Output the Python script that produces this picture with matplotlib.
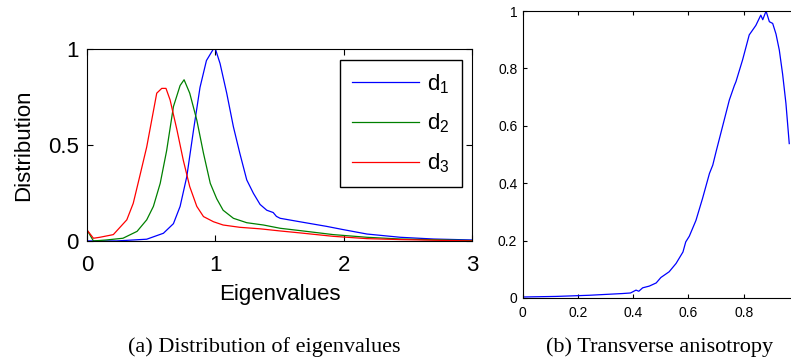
import matplotlib.pyplot as plt
import numpy as np

plt.rcParams['font.family'] = ['Liberation Sans', 'DejaVu Sans']
plt.rcParams['mathtext.fontset'] = 'custom'
plt.rcParams['mathtext.rm'] = 'Liberation Sans'
plt.rcParams['mathtext.it'] = 'Liberation Sans'

# (a) eigenvalue distributions
x_d1 = [0.0, 0.23, 0.465, 0.595, 0.673, 0.725, 0.777, 0.83, 0.88, 0.93, 0.984, 1.0,
        1.036, 1.088, 1.14, 1.19, 1.244, 1.296, 1.348, 1.40, 1.45, 1.475, 1.504,
        1.657, 1.865, 1.995, 2.18, 2.44, 2.70, 3.0]
y_d1 = [0.0, 0.0, 0.009, 0.04, 0.09, 0.18, 0.335, 0.58, 0.80, 0.94, 1.0, 1.0,
        0.925, 0.77, 0.595, 0.457, 0.318, 0.248, 0.19, 0.16, 0.148, 0.128, 0.118,
        0.10, 0.076, 0.059, 0.036, 0.019, 0.01, 0.005]

x_d2 = [0.0, 0.05, 0.15, 0.28, 0.39, 0.465, 0.517, 0.57, 0.62, 0.673, 0.725, 0.756,
        0.80, 0.855, 0.907, 0.96, 1.01, 1.06, 1.14, 1.244, 1.374, 1.504, 1.657,
        1.917, 2.18, 2.44, 3.0]
y_d2 = [0.057, 0.0, 0.005, 0.014, 0.05, 0.11, 0.18, 0.30, 0.47, 0.70, 0.81, 0.84,
        0.77, 0.63, 0.457, 0.30, 0.22, 0.16, 0.118, 0.095, 0.083, 0.066, 0.054,
        0.033, 0.019, 0.010, 0.002]

x_d3 = [0.0, 0.02, 0.05, 0.1, 0.205, 0.31, 0.36, 0.41, 0.465, 0.504, 0.543, 0.582,
        0.615, 0.647, 0.70, 0.75, 0.80, 0.855, 0.907, 0.985, 1.06, 1.19, 1.35,
        1.504, 1.657, 1.917, 2.18, 2.44, 3.0]
y_d3 = [0.057, 0.04, 0.014, 0.019, 0.033, 0.11, 0.196, 0.335, 0.49, 0.63, 0.77, 0.795,
        0.795, 0.735, 0.58, 0.42, 0.283, 0.18, 0.127, 0.10, 0.083, 0.071, 0.063,
        0.052, 0.042, 0.024, 0.012, 0.007, 0.0]

# (b) transverse anisotropy
x_ta = [0.0, 0.12, 0.24, 0.30, 0.36, 0.39, 0.41, 0.42, 0.434, 0.458, 0.483, 0.50,
        0.53, 0.555, 0.58, 0.59, 0.603, 0.627, 0.651, 0.676, 0.688, 0.70, 0.724,
        0.748, 0.766, 0.772, 0.796, 0.82, 0.844, 0.862, 0.869, 0.881, 0.893,
        0.905, 0.917, 0.929, 0.941, 0.953, 0.965]
y_ta = [0.003, 0.005, 0.009, 0.012, 0.015, 0.017, 0.027, 0.023, 0.035, 0.041, 0.052, 0.071,
        0.091, 0.12, 0.16, 0.195, 0.215, 0.27, 0.347, 0.434, 0.463, 0.51, 0.60,
        0.69, 0.74, 0.754, 0.83, 0.917, 0.95, 0.986, 0.97, 1.0, 0.963,
        0.957, 0.92, 0.864, 0.78, 0.678, 0.538]

fig = plt.figure(figsize=(7.91, 3.58), dpi=100)

ax1 = fig.add_axes([0.110, 0.327, 0.487, 0.536])
ax1.plot(x_d1, y_d1, color='#0000ff', lw=0.9, label=r'd$_1$')
ax1.plot(x_d2, y_d2, color='#008000', lw=0.9, label=r'd$_2$')
ax1.plot(x_d3, y_d3, color='#ff0000', lw=0.9, label=r'd$_3$')
ax1.set_xlim(0, 3)
ax1.set_ylim(0, 1)
ax1.set_xticks([0, 1, 2, 3])
ax1.set_yticks([0, 0.5, 1])
ax1.set_yticklabels(['0', '0.5', '1'])
ax1.tick_params(direction='in', top=True, right=True, labelsize=16, length=4)
ax1.tick_params(axis='x', pad=10)
ax1.tick_params(axis='y', pad=6)
ax1.set_xlabel('Eigenvalues', fontsize=16, labelpad=6)
ax1.set_ylabel('Distribution', fontsize=16, labelpad=10)
leg = ax1.legend(loc='upper right', bbox_to_anchor=(0.974, 0.943), borderaxespad=0,
                 fontsize=16, fancybox=False, edgecolor='black', framealpha=1,
                 handlelength=3.0, handletextpad=0.4, labelspacing=0.72, borderpad=0.55)
leg.get_frame().set_linewidth(1.0)

ax2 = fig.add_axes([0.661, 0.168, 0.349, 0.801])
ax2.plot(x_ta, y_ta, color='#0000ff', lw=0.9)
ax2.set_xlim(0, 1)
ax2.set_ylim(0, 1)
ax2.set_xticks([0, 0.2, 0.4, 0.6, 0.8, 1.0])
ax2.set_xticklabels(['0', '0.2', '0.4', '0.6', '0.8', ''])
ax2.set_yticks([0, 0.2, 0.4, 0.6, 0.8, 1.0])
ax2.set_yticklabels(['0', '0.2', '0.4', '0.6', '0.8', '1'])
ax2.tick_params(direction='in', top=True, right=True, labelsize=10, length=3)
ax2.tick_params(axis='x', pad=6)
ax2.tick_params(axis='y', pad=4)

fig.text(0.334, 0.018, '(a) Distribution of eigenvalues', fontsize=16,
         family='Liberation Serif', ha='center', va='baseline')
fig.text(0.834, 0.018, '(b) Transverse anisotropy', fontsize=16,
         family='Liberation Serif', ha='center', va='baseline')

fig.savefig('out.png', dpi=100)
